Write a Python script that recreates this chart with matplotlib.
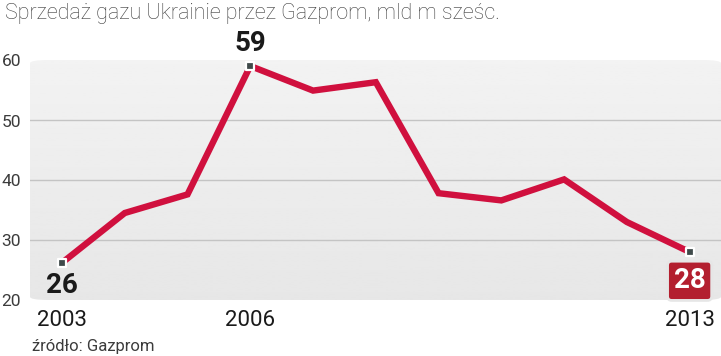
import numpy as np
import matplotlib
matplotlib.use("Agg")
import matplotlib.pyplot as plt
from matplotlib.patches import FancyBboxPatch

years = [2003, 2004, 2005, 2006, 2007, 2008, 2009, 2010, 2011, 2012, 2013]
sales = [26.2, 34.5, 37.6, 59.0, 54.9, 56.3, 37.8, 36.6, 40.1, 33.0, 28.0]
yticks = [20, 30, 40, 50, 60]
year_labels = [2003, 2006, 2013]
title = "Sprzedaż gazu Ukrainie przez Gazprom, mld m sześc."
source = "źródło: Gazprom"

RED = "#d0103e"
BOX = "#b31f2f"
GREY = "#3c3c3c"
COND = ["Roboto", "DejaVu Sans"]
LIGHT = ["Roboto", "DejaVu Sans"]

fig = plt.figure(figsize=(7.21, 3.56), dpi=100)
W, H = 721, 356
x0, x1 = 2002.49, 2013.5
ax = fig.add_axes([30 / W, (H - 300) / H, 1 - 30 / W, 240 / H])
ax.set_xlim(x0, x1)
ax.set_ylim(20, 60)
ax.axis("off")

# rounded grey panel with soft vertical gradient
panel = FancyBboxPatch((x0, 20), x1 - x0, 40,
                       boxstyle="round,pad=0,rounding_size=0.3",
                       mutation_aspect=40 / 11 * 0.5,
                       facecolor="none", edgecolor="none", transform=ax.transData)
ax.add_patch(panel)
grad = np.linspace(0.95, 0.905, 100).reshape(-1, 1)
img = ax.imshow(grad, extent=[x0, x1, 20, 60], aspect="auto", cmap="gray",
                vmin=0, vmax=1, origin="upper", zorder=0)
img.set_clip_path(panel)

for t in yticks[1:-1]:
    ax.plot([x0, x1], [t, t], color="#c4c4c4", lw=1.0, zorder=1)

ax.plot(years, sales, color=RED, lw=4.6, solid_joinstyle="miter", zorder=3)

marks = [0, 3, 10]
ax.scatter([years[i] for i in marks], [sales[i] for i in marks], marker="s", s=30,
           facecolor="#3f4a4a", edgecolor="white", linewidths=1.6, zorder=4)

ax.text(years[0], sales[0] - 1.5, "26", ha="center", va="top", fontsize=20,
        fontweight="bold", family=COND, color="#1a1a1a", zorder=5)
ax.text(years[3], sales[3] + 1.5, "59", ha="center", va="bottom", fontsize=20,
        fontweight="bold", family=COND, color="#1a1a1a", zorder=5, clip_on=False)
ax.text(years[10], sales[10] - 4.8, "28", ha="center", va="center", fontsize=20,
        fontweight="bold", family=COND, color="white", zorder=5,
        bbox=dict(boxstyle="round,pad=0.22,rounding_size=0.15", facecolor=BOX,
                  edgecolor="#e6e6e6", linewidth=2))

for t in yticks:
    fig.text(21 / W, 1 - (302 - (t - 20) * 6) / H, str(t), ha="right", va="center",
             fontsize=12.5, family=LIGHT, color=GREY)

for yr in year_labels:
    ax.text(yr, 16.6, str(yr), ha="center", va="center", fontsize=16,
            family=LIGHT, color="#1a1a1a", clip_on=False)

fig.text(5 / W, 1 - 13 / H, title, ha="left", va="center", fontsize=15.5,
         family=LIGHT, fontweight="light", color=GREY)
fig.text(32 / W, 1 - 346 / H, source, ha="left", va="center", fontsize=12,
         family=LIGHT, color=GREY)

fig.savefig("out.png", dpi=100)
